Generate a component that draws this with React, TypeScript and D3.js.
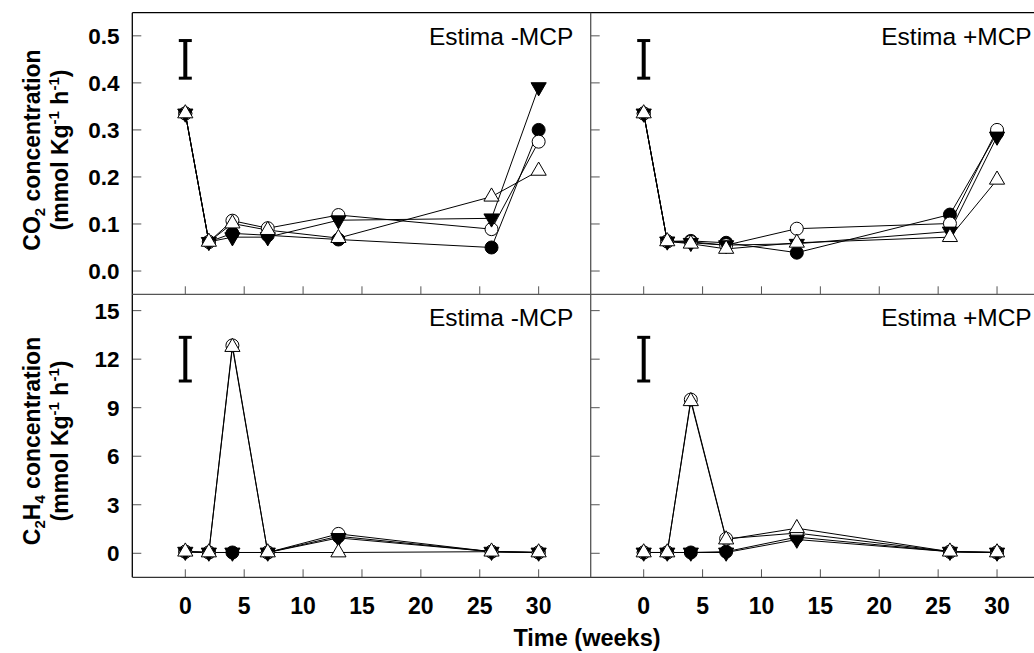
import React from 'react';
import * as d3 from 'd3';

const weeks = [0, 2, 4, 7, 13, 26, 30];
const panelLabels = ['Estima -MCP', 'Estima +MCP'];
const co2Ticks = [0, 0.1, 0.2, 0.3, 0.4, 0.5];
const c2h4Ticks = [0, 3, 6, 9, 12, 15];
const xTicks = [0, 5, 10, 15, 20, 25, 30];

// CO2, Estima -MCP
const co2MinusFilledCircle = [0.335, 0.062, 0.080, 0.076, 0.067, 0.050, 0.300];
const co2MinusOpenCircle = [0.335, 0.062, 0.107, 0.091, 0.119, 0.089, 0.275];
const co2MinusFilledTri = [0.335, 0.062, 0.072, 0.072, 0.108, 0.112, 0.391];
const co2MinusOpenTri = [0.335, 0.062, 0.101, 0.087, 0.070, 0.158, 0.213];
// CO2, Estima +MCP
const co2PlusFilledCircle = [0.335, 0.063, 0.064, 0.060, 0.039, 0.120, 0.293];
const co2PlusOpenCircle = [0.335, 0.063, 0.062, 0.055, 0.090, 0.101, 0.300];
const co2PlusFilledTri = [0.335, 0.063, 0.060, 0.055, 0.058, 0.084, 0.286];
const co2PlusOpenTri = [0.335, 0.063, 0.058, 0.047, 0.060, 0.072, 0.194];
// C2H4, Estima -MCP
const c2h4MinusFilledCircle = [0.1, 0.05, 0.05, 0.05, 1.05, 0.1, 0.05];
const c2h4MinusOpenCircle = [0.1, 0.05, 12.85, 0.05, 1.2, 0.1, 0.05];
const c2h4MinusFilledTri = [0.1, 0.05, 0.05, 0.05, 0.95, 0.1, 0.05];
const c2h4MinusOpenTri = [0.1, 0.05, 12.75, 0.05, 0.05, 0.1, 0.05];
// C2H4, Estima +MCP
const c2h4PlusFilledCircle = [0.05, 0.05, 0.05, 0.1, 1.0, 0.1, 0.05];
const c2h4PlusOpenCircle = [0.05, 0.05, 9.5, 0.9, 1.25, 0.1, 0.05];
const c2h4PlusFilledTri = [0.05, 0.05, 0.05, 0.05, 0.85, 0.1, 0.05];
const c2h4PlusOpenTri = [0.05, 0.05, 9.4, 0.85, 1.55, 0.1, 0.05];

// error bars (low, high)
const co2ErrorBar = [0.41, 0.49];
const c2h4ErrorBar = [10.65, 13.35];

const FONT = '"Liberation Sans", Arial, Helvetica, sans-serif';

type Kind = 'filledCircle' | 'openCircle' | 'filledTri' | 'openTri';
const kinds: Kind[] = ['filledCircle', 'openCircle', 'filledTri', 'openTri'];

const LEFT = 132.3;
const DIV = 590.7;
const PANEL_W = DIV - LEFT;
const TOP = 12.7;
const MID = 294.3;
const BOTTOM = 577.3;

const triPath = d3.symbol().type(d3.symbolTriangle).size(100)() as string;

function Marker({ kind, x, y }: { kind: Kind; x: number; y: number }) {
  if (kind === 'filledCircle' || kind === 'openCircle') {
    return (
      <circle cx={x} cy={y} r={6.5} fill={kind === 'filledCircle' ? '#000' : '#fff'} stroke="#000" strokeWidth={1} />
    );
  }
  const rot = kind === 'filledTri' ? 180 : 0;
  return (
    <path
      d={triPath}
      transform={`translate(${x},${y}) rotate(${rot})`}
      fill={kind === 'filledTri' ? '#000' : '#fff'}
      stroke="#000"
      strokeWidth={1}
    />
  );
}

function Panel({
  x0, y0, y1, yDomain, yTicks, yFmt, series, label, err, showXLabels,
}: {
  x0: number; y0: number; y1: number; yDomain: [number, number]; yTicks: number[];
  yFmt: (v: number) => string; series: number[][]; label: string; err: number[]; showXLabels: boolean;
}) {
  const x = d3.scaleLinear().domain([-4.5, 34.42]).range([x0, x0 + PANEL_W]);
  const y = d3.scaleLinear().domain(yDomain).range([y1, y0]);
  const line = d3.line<number>().x((_, i) => x(weeks[i])).y((d) => y(d));
  const tickColor = '#555';
  return (
    <g>
      {yTicks.map((t) => (
        <line key={'yt' + t} x1={x0} x2={x0 + 9} y1={y(t)} y2={y(t)} stroke={tickColor} strokeWidth={1} />
      ))}
      {xTicks.map((t) => (
        <line key={'xt' + t} x1={x(t)} x2={x(t)} y1={y1} y2={y1 - 8} stroke={tickColor} strokeWidth={1} />
      ))}
      {showXLabels &&
        xTicks.map((t) => (
          <text key={'xl' + t} x={x(t)} y={y1 + 36.3} textAnchor="middle" fontFamily={FONT} fontWeight="bold" fontSize={23}>
            {t}
          </text>
        ))}
      {x0 === LEFT &&
        yTicks.map((t) => (
          <text key={'yl' + t} x={119.5} y={y(t)} dy="0.36em" textAnchor="end" fontFamily={FONT} fontWeight="bold" fontSize={22.5}>
            {yFmt(t)}
          </text>
        ))}
      <g stroke="#000">
        <line x1={x(0)} x2={x(0)} y1={y(err[0])} y2={y(err[1])} strokeWidth={4} />
        <line x1={x(0) - 6.5} x2={x(0) + 6.5} y1={y(err[0])} y2={y(err[0])} strokeWidth={3} />
        <line x1={x(0) - 6.5} x2={x(0) + 6.5} y1={y(err[1])} y2={y(err[1])} strokeWidth={3} />
      </g>
      {series.map((s, i) => (
        <path key={'l' + i} d={line(s) as string} fill="none" stroke="#000" strokeWidth={1} />
      ))}
      {series.map((s, i) => (
        <g key={'m' + i}>
          {s.map((v, j) => (
            <Marker key={j} kind={kinds[i]} x={x(weeks[j])} y={y(v)} />
          ))}
        </g>
      ))}
      <text x={x0 + PANEL_W - 17.4} y={y0 + 31.8} textAnchor="end" fontFamily={FONT} fontSize={24.5}>
        {label}
      </text>
    </g>
  );
}

export default function App() {
  const co2Fmt = d3.format('.1f');
  const intFmt = d3.format('d');
  return (
    <svg width={1034} height={653} style={{ position: 'absolute', left: 0, top: 0, background: '#fff' }}>
      <rect width={1034} height={653} fill="#fff" />
      <Panel x0={LEFT} y0={TOP} y1={MID} yDomain={[-0.0495, 0.5492]} yTicks={co2Ticks} yFmt={co2Fmt}
        series={[co2MinusFilledCircle, co2MinusOpenCircle, co2MinusFilledTri, co2MinusOpenTri]}
        label={panelLabels[0]} err={co2ErrorBar} showXLabels={false} />
      <Panel x0={DIV} y0={TOP} y1={MID} yDomain={[-0.0495, 0.5492]} yTicks={co2Ticks} yFmt={co2Fmt}
        series={[co2PlusFilledCircle, co2PlusOpenCircle, co2PlusFilledTri, co2PlusOpenTri]}
        label={panelLabels[1]} err={co2ErrorBar} showXLabels={false} />
      <Panel x0={LEFT} y0={MID} y1={BOTTOM} yDomain={[-1.484, 16.01]} yTicks={c2h4Ticks} yFmt={intFmt}
        series={[c2h4MinusFilledCircle, c2h4MinusOpenCircle, c2h4MinusFilledTri, c2h4MinusOpenTri]}
        label={panelLabels[0]} err={c2h4ErrorBar} showXLabels={true} />
      <Panel x0={DIV} y0={MID} y1={BOTTOM} yDomain={[-1.484, 16.01]} yTicks={c2h4Ticks} yFmt={intFmt}
        series={[c2h4PlusFilledCircle, c2h4PlusOpenCircle, c2h4PlusFilledTri, c2h4PlusOpenTri]}
        label={panelLabels[1]} err={c2h4ErrorBar} showXLabels={true} />
      <line x1={LEFT} x2={1034} y1={TOP} y2={TOP} stroke="#000" strokeWidth={1.3} />
      <line x1={LEFT} x2={LEFT} y1={TOP} y2={BOTTOM} stroke="#000" strokeWidth={1.3} />
      <line x1={LEFT} x2={1034} y1={BOTTOM} y2={BOTTOM} stroke="#333" strokeWidth={1.3} />
      <line x1={LEFT} x2={1034} y1={MID} y2={MID} stroke="#555" strokeWidth={1.3} />
      <line x1={DIV} x2={DIV} y1={TOP} y2={BOTTOM} stroke="#555" strokeWidth={1.3} />
      <g fontFamily={FONT} fontWeight="bold" fontSize={23}>
        <text transform="translate(40,150) rotate(-90)" textAnchor="middle">
          CO<tspan fontSize={15} dy={5}>2</tspan><tspan dy={-5}> concentration</tspan>
        </text>
        <text transform="translate(68,150) rotate(-90)" textAnchor="middle">
          (mmol Kg<tspan fontSize={15} dy={-9}>-1</tspan><tspan dy={9}> h</tspan><tspan fontSize={15} dy={-9}>-1</tspan><tspan dy={9}>)</tspan>
        </text>
        <text transform="translate(40,441) rotate(-90)" textAnchor="middle">
          C<tspan fontSize={15} dy={5}>2</tspan><tspan dy={-5}>H</tspan><tspan fontSize={15} dy={5}>4</tspan><tspan dy={-5}> concentration</tspan>
        </text>
        <text transform="translate(68,441) rotate(-90)" textAnchor="middle">
          (mmol Kg<tspan fontSize={15} dy={-9}>-1</tspan><tspan dy={9}> h</tspan><tspan fontSize={15} dy={-9}>-1</tspan><tspan dy={9}>)</tspan>
        </text>
        <text x={587} y={646} textAnchor="middle" fontSize={23.5}>Time (weeks)</text>
      </g>
    </svg>
  );
}
